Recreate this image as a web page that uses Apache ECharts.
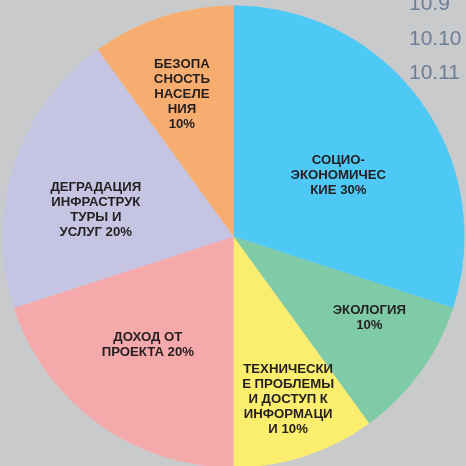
<!DOCTYPE html>
<html>
<head>
<meta charset="utf-8">
<script src="https://cdn.jsdelivr.net/npm/echarts@6/dist/echarts.min.js"></script>
<style>
html,body{margin:0;padding:0;background:#c9cacb;}
#main{width:466px;height:466px;}
</style>
</head>
<body>
<div id="main"></div>
<script>
// Data
const categories = [
  'СОЦИО-\nЭКОНОМИЧЕС\nКИЕ',
  'ЭКОЛОГИЯ',
  'ТЕХНИЧЕСКИ\nЕ ПРОБЛЕМЫ\nИ ДОСТУП К\nИНФОРМАЦИ\nИ',
  'ДОХОД ОТ\nПРОЕКТА',
  'ДЕГРАДАЦИЯ\nИНФРАСТРУК\nТУРЫ И\nУСЛУГ',
  'БЕЗОПА\nСНОСТЬ\nНАСЕЛЕ\nНИЯ'
];
const values = [30, 10, 10, 20, 20, 10];
const sideLabels = ['10.9', '10.10', '10.11'];

// Styles
const colors = ['#4ec9f6', '#7fcaa7', '#fbee6f', '#f6a9aa', '#c6c4e3', '#f8ad70'];
const labelOffsets = [[9, 9], [40, 12], [18, 50], [-16, 12], [-25, 10], [-15, -29]];
// line break before percent only where original does it
const percentSep = ['\u0020', '\n', '\u0020', '\u0020', '\u0020', '\n'];

const chart = echarts.init(document.getElementById('main'), null, {renderer: 'canvas'});

const data = categories.map((c, i) => ({
  name: c,
  value: values[i],
  itemStyle: {color: colors[i]},
  label: {offset: labelOffsets[i]}
}));

const total = values.reduce((a, b) => a + b, 0);

chart.setOption({
  backgroundColor: '#c9cacb',
  animation: false,
  graphic: sideLabels.map((t, i) => ({
    type: 'text',
    left: 409,
    top: -6 + i * 34.5,
    silent: true,
    z: 0,
    style: {
      text: t,
      fill: '#6d7e98',
      font: '21px "Liberation Sans", Arial, sans-serif'
    }
  })),
  series: [{
    type: 'pie',
    center: [233.5, 236.5],
    radius: [0, 231],
    startAngle: 90,
    clockwise: true,
    avoidLabelOverlap: false,
    itemStyle: {borderWidth: 0},
    emphasis: {disabled: true},
    label: {
      show: true,
      position: 'inside',
      color: '#231f20',
      fontFamily: '"Liberation Sans", Arial, sans-serif',
      fontWeight: 'bold',
      fontSize: 13.2,
      lineHeight: 15,
      align: 'center',
      formatter: function (p) {
        const pct = Math.round(p.value / total * 100) + '%';
        return p.name + percentSep[p.dataIndex] + pct;
      }
    },
    labelLine: {show: false},
    data: data
  }]
});
</script>
</body>
</html>
